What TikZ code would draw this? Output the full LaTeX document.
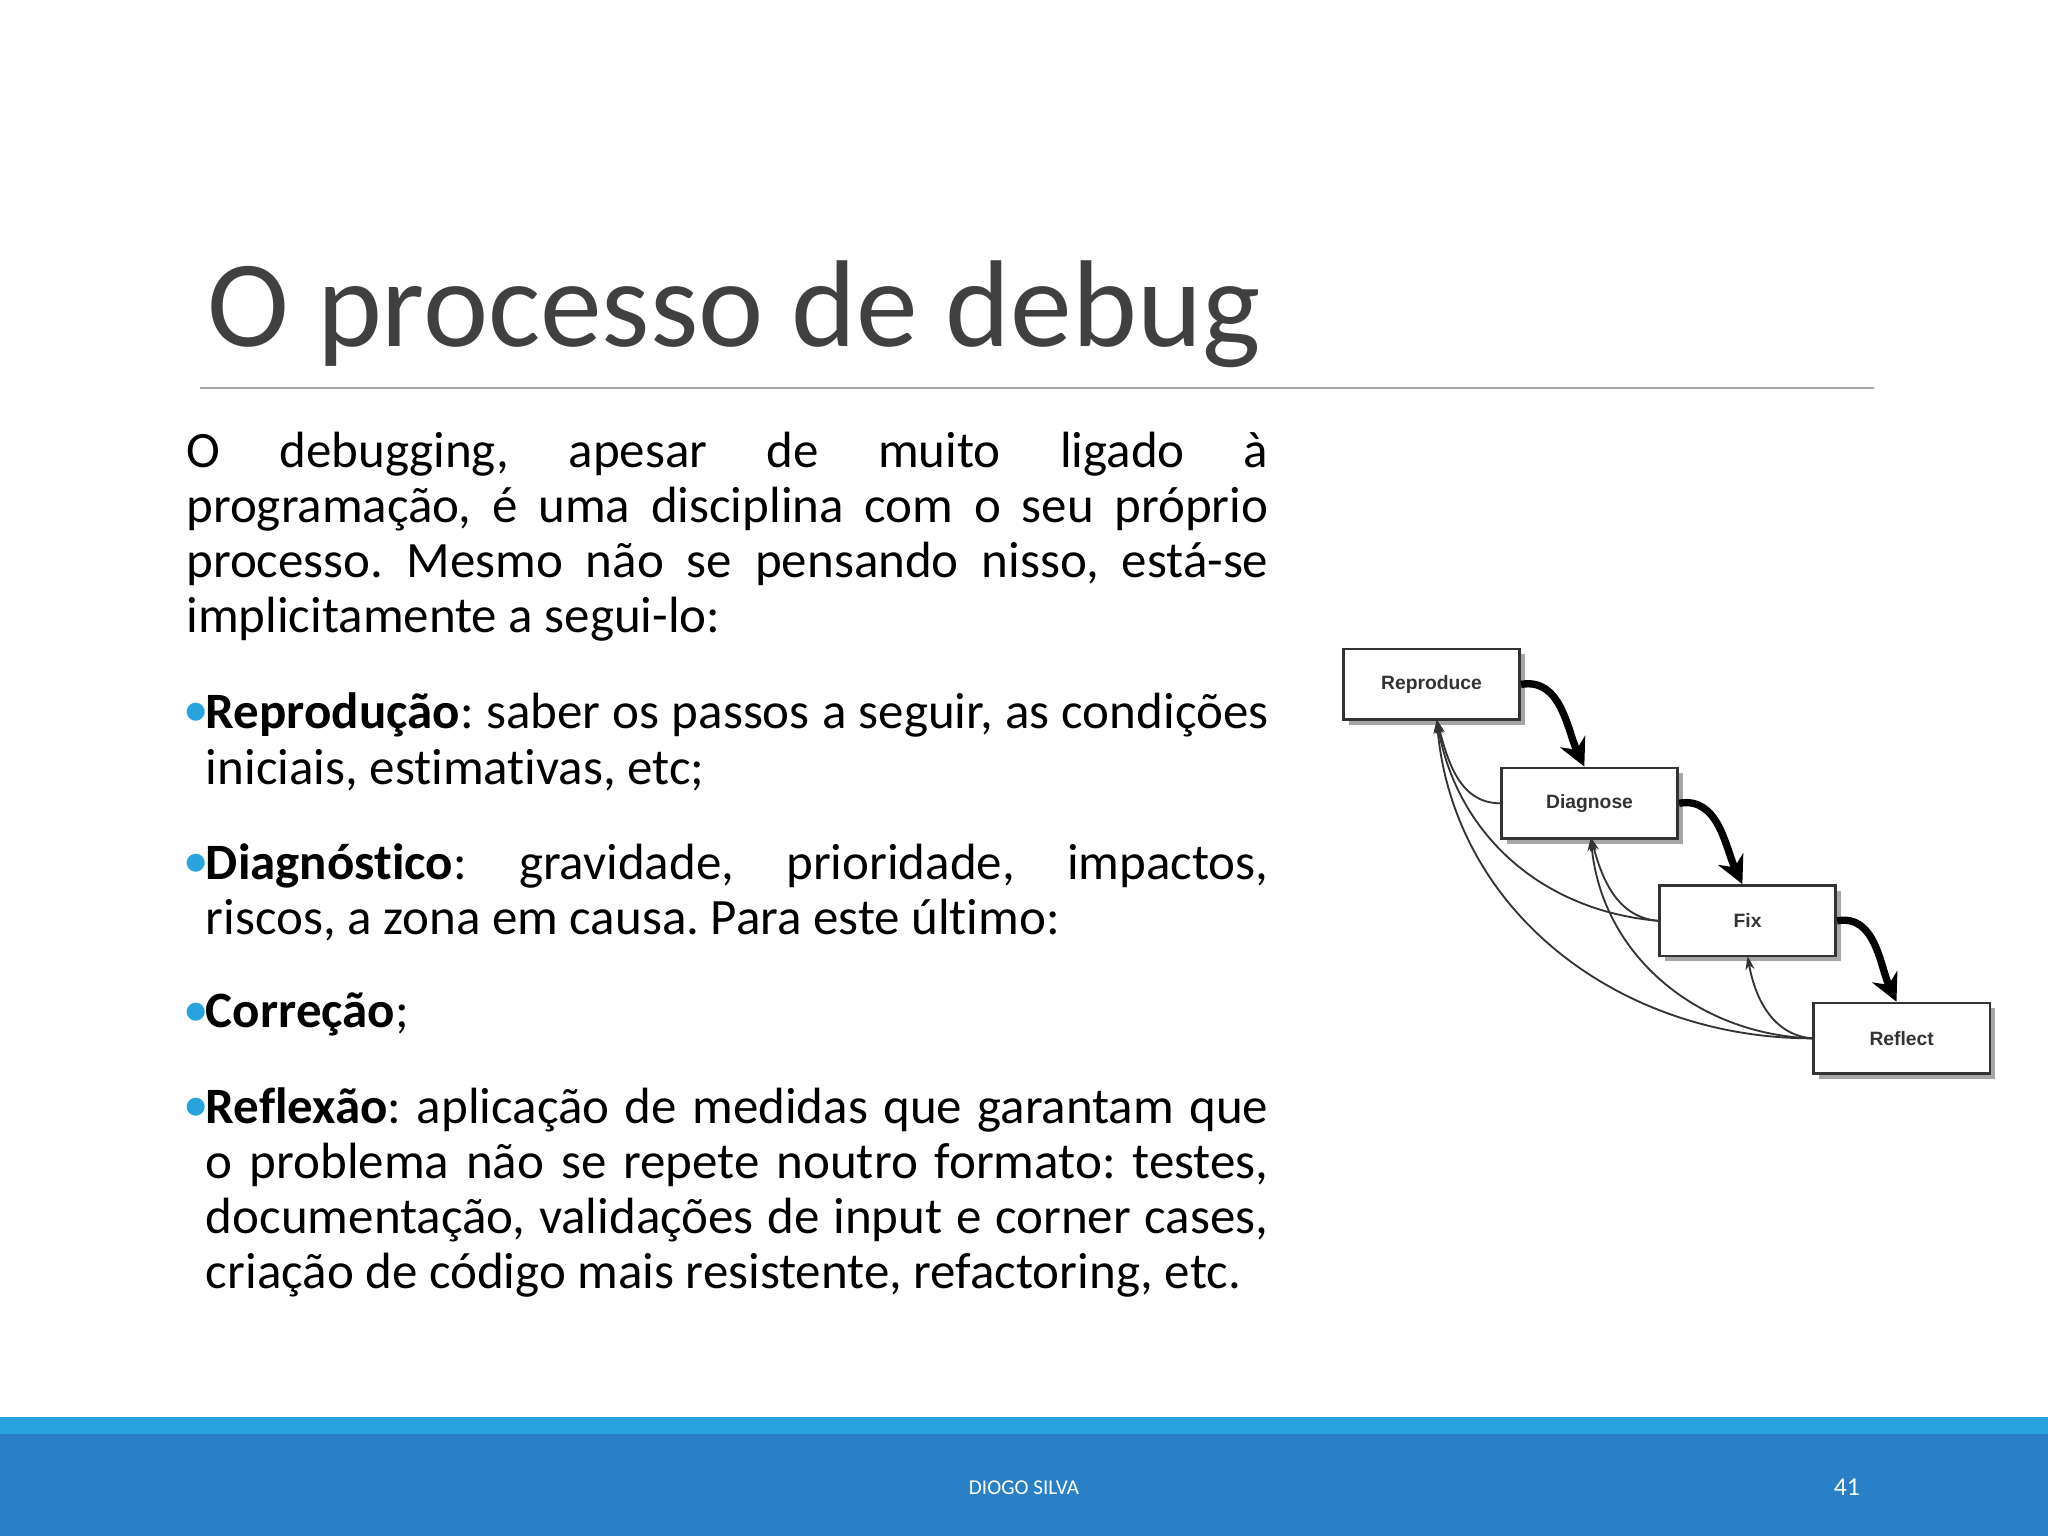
\documentclass[tikz,border=0pt]{standalone}
\usepackage{fontspec}
\setmainfont{Carlito}[RawFeature={-liga}]
\newfontfamily\diagfont{Liberation Sans}
\usetikzlibrary{arrows.meta}
\definecolor{ttl}{HTML}{404040}
\definecolor{lblue}{HTML}{29A3DD}
\definecolor{dblue}{HTML}{2A80C6}
\definecolor{bul}{HTML}{29A3DD}
\hyphenpenalty=10000 \exhyphenpenalty=10000
\frenchspacing
\begin{document}
\begin{tikzpicture}[x=0.01cm,y=-0.01cm,
  para/.style={anchor=north west,inner sep=0pt,align=justify,font=\fontsize{11.1pt}{12pt}\selectfont},
  bulletmark/.style={anchor=north west,inner sep=0pt,text=bul,font=\fontsize{11.1pt}{12pt}\selectfont},
  box/.style={draw=black!80,line width=0.6pt,fill=white,minimum width=1.35cm,minimum height=0.54cm,font=\diagfont\bfseries\fontsize{4.2pt}{5pt}\selectfont,text=black!80},
  shadowbox/.style={fill=black!35,minimum width=1.35cm,minimum height=0.54cm,inner sep=0pt},
  thick arr/.style={line width=1.6pt,-{Stealth[length=6pt,width=6pt]}},
  thin arr/.style={line width=0.4pt,black!80,-{Stealth[length=3pt,width=2pt]}}]
\fill[white] (0,0) rectangle (1568,1176);
\useasboundingbox (0,0) rectangle (1568,1176);
% title
\node[anchor=base west,inner sep=0pt,text=ttl,font=\fontsize{26.9pt}{30pt}\selectfont] (title) at (158,265) {O processo de debug};
\draw[gray!70,line width=0.5pt] (153,297) -- (1435,297);
% body
\node[para,text width=8.28cm] (p1) at (142,330) {O debugging, apesar de muito ligado à\linebreak programação, é uma disciplina com o seu próprio\linebreak processo. Mesmo não se pensando nisso, está-se\linebreak implicitamente a segui-lo:};
\node[bulletmark] (b1) at (140,538) {•};
\node[para,text width=8.13cm] (t1) at (157,530) {\textbf{Reprodução}: saber os passos a seguir, as condições iniciais, estimativas, etc;};
\node[bulletmark] (b2) at (140,653) {•};
\node[para,text width=8.13cm] (t2) at (157,645) {\textbf{Diagnóstico}: gravidade, prioridade, impactos, riscos, a zona em causa. Para este último:};
\node[bulletmark] (b3) at (140,767) {•};
\node[para,text width=8.13cm,align=left] (t3) at (157,759) {\textbf{Correção};};
\node[bulletmark] (b4) at (140,840) {•};
\node[para,text width=8.13cm] (t4) at (157,832) {\textbf{Reflexão}: aplicação de medidas que garantam que o problema não se repete noutro formato: testes, documentação, validações de input e corner cases, criação de código mais resistente, refactoring, etc.};
% diagram shadows
\foreach \x/\y in {1096/524,1217/615,1338/705,1456/795}
  \node[shadowbox] at (\x+4,\y+4) {};
\node[box] (rep) at (1096,524) {Reproduce};
\node[box] (dia) at (1217,615) {Diagnose};
\node[box] (fix) at (1338,705) {Fix};
\node[box] (ref) at (1456,795) {Reflect};
\draw[thick arr] (rep.east) to[out=10,in=115] ([xshift=-0.04cm]dia.north);
\draw[thick arr] (dia.east) to[out=10,in=115] ([xshift=-0.04cm]fix.north);
\draw[thick arr] (fix.east) to[out=10,in=115] ([xshift=-0.04cm]ref.north);
\coordinate (repb) at (1100,551);
\coordinate (diab) at (1218,641);
\coordinate (fixb) at (1338,732);
\draw[thin arr] (dia.west) to[out=180,in=-75] (repb);
\draw[thin arr] (fix.west) to[out=175,in=-80] (repb);
\draw[thin arr] (ref.west) to[out=180,in=-85] (repb);
\draw[thin arr] (fix.west) to[out=175,in=-75] (diab);
\draw[thin arr] (ref.west) to[out=178,in=-85] (diab);
\draw[thin arr] (ref.west) to[out=175,in=-80] (fixb);
% footer
\fill[lblue] (0,1085) rectangle (1568,1098);
\fill[dblue] (0,1098) rectangle (1568,1176);
\node[text=white,font=\fontsize{4.6pt}{5pt}\selectfont] (auth) at (784,1139) {DIOGO SILVA};
\node[text=white,font=\fontsize{5.6pt}{6pt}\selectfont] (pg) at (1414,1139) {41};
\end{tikzpicture}
\end{document}
